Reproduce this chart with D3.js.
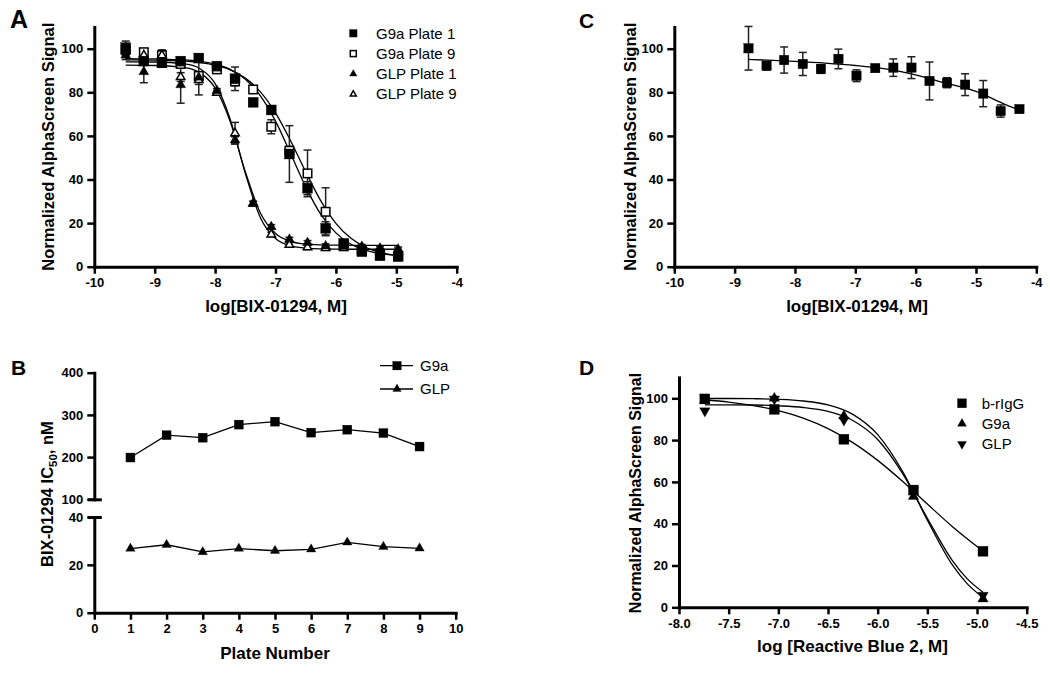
<!DOCTYPE html>
<html><head><meta charset="utf-8">
<script src="https://cdn.jsdelivr.net/npm/d3@7"></script>
<style>body{margin:0;background:#fff}</style>
</head><body><svg id="c" width="1050" height="674"></svg>
<script>
// ---------- Panel A data ----------
const aX = [-9.48,-9.18,-8.88,-8.57,-8.27,-7.97,-7.67,-7.37,-7.07,-6.77,-6.47,-6.17,-5.87,-5.57,-5.27,-4.97];
const aG9aP1 = [100.5,94.3,93.5,94.3,95.7,92,86.2,75.4,71.9,51.7,36,17.6,10.7,6.9,5,4.6];
const aG9aP1Err = [3,1.5,1.5,1.5,1.5,1,5.4,1,1.5,13,3,3,1,1,1,1];
const aG9aP9 = [99.5,98.4,97,93,87.5,90.5,85,81.3,64.2,53.2,42.8,25.2,10,7.6,6,5];
const aG9aP9Err = [2,1.5,2,1.5,8.7,1,2,1,3.2,2,10.7,11,1,1,1,1];
const aGLPP1 = [97,89.4,93.5,83.4,86.9,80.7,58.1,29,18.3,12.5,11,9.5,9.2,9.2,8.4,8];
const aGLPP1Err = [2,5,2,8.4,2,1,1.5,1,1,1,1,1,1,1,1,1];
const aGLPP9 = [99,97,97,87,85.6,79.8,61.2,29,14.8,10,8.9,8.5,8.5,8,7.5,7];
const aGLPP9Err = [2,2,2.5,2,2,1,5,1,1,1,1,1,1,1,1,1];
// fitted curves
const aFitG9aP1 = [[-9.48,95.45],[-9,95.3],[-8.5,94.85],[-8,92.9],[-7.75,90.5],[-7.5,86],[-7.25,78.4],[-7,66.8],[-6.75,51.9],[-6.5,36.6],[-6.25,24],[-6,15.5],[-5.75,10.3],[-5.5,7.5],[-5.25,6],[-4.97,5.2]];
const aFitG9aP9 = [[-9.48,94.9],[-9,94.8],[-8.5,94.3],[-8,92.4],[-7.75,90.3],[-7.5,86.5],[-7.25,80.2],[-7,70.6],[-6.75,57.8],[-6.5,43.5],[-6.25,30.2],[-6,19.9],[-5.75,13],[-5.5,8.8],[-5.25,6.4],[-4.97,5]];
const aFitGLPP1 = [[-9.48,92.5],[-9,92.3],[-8.5,91.3],[-8.25,88.9],[-8,82],[-7.75,66.6],[-7.5,43.6],[-7.25,24.6],[-7,15.2],[-6.75,11.6],[-6.5,10.4],[-6,9.9],[-5.5,9.8],[-4.97,9.8]];
const aFitGLPP9 = [[-9.48,94],[-9,93.9],[-8.5,93],[-8.25,90.8],[-8,84],[-7.75,67.7],[-7.5,42.8],[-7.25,22.5],[-7,12.9],[-6.75,9.5],[-6.5,8.5],[-6,8.05],[-5.5,8],[-4.97,8]];
const aXTicks = [-10,-9,-8,-7,-6,-5,-4];
const aYTicks = [0,20,40,60,80,100];
const aLegend = ["G9a Plate 1","G9a Plate 9","GLP Plate 1","GLP Plate 9"];

// ---------- Panel B data ----------
const bPlates = [1,2,3,4,5,6,7,8,9];
const bG9a = [199,252,246,277,284,258,265,257,225];
const bGLP = [26.8,28.4,25.4,26.8,25.9,26.5,29.4,27.6,26.9];
const bXTicks = [0,1,2,3,4,5,6,7,8,9,10];
const bYTicksHigh = [100,200,300,400];
const bYTicksLow = [0,20,40];
const bLegend = ["G9a","GLP"];

// ---------- Panel C data ----------
const cX = [-8.77,-8.47,-8.18,-7.87,-7.57,-7.28,-6.98,-6.67,-6.37,-6.07,-5.77,-5.48,-5.18,-4.88,-4.59,-4.28];
const cY = [100.2,92.2,94.8,93,90.7,95.3,87.6,91.1,91.3,91.3,85.2,84.4,83.5,79.4,71.4,72.3];
const cErr = [10,2,6,5.3,2,4.5,2.7,1.5,4,5,8.7,2.3,5,6,2.8,0];
const cFit = [[-8.77,95.1],[-8,94.2],[-7.5,93.4],[-7,92.3],[-6.5,90.7],[-6,88],[-5.5,84.2],[-5,80.4],[-4.5,74.2],[-4.28,71.8]];
const cXTicks = [-10,-9,-8,-7,-6,-5,-4];

// ---------- Panel D data ----------
const dX = [-7.74,-7.04,-6.34,-5.64,-4.94];
const dIgG = [99.7,94.7,80.4,56.1,26.8];
const dG9a = [99,100,91.5,53,4];
const dGLP = [94,99.7,89.6,56,5.7];
const dFitIgG = [[-7.74,99.3],[-7.5,98.2],[-7.25,96.5],[-7,94.1],[-6.75,90.5],[-6.5,85.5],[-6.25,78.8],[-6,70.3],[-5.75,60.3],[-5.5,49.4],[-5.25,38.7],[-4.94,26.9]];
const dFitG9a = [[-7.74,99.9],[-7.5,99.9],[-7.25,99.8],[-7,99.5],[-6.75,98.7],[-6.5,96.8],[-6.25,92.3],[-6,82.6],[-5.75,65.1],[-5.5,41.7],[-5.25,20.4],[-5.1,11.3],[-4.94,4.7]];
const dFitGLP = [[-7.74,96.9],[-7.5,96.9],[-7.25,96.8],[-7,96.4],[-6.75,95.6],[-6.5,93.7],[-6.25,89.4],[-6,80.3],[-5.75,64.1],[-5.5,42.6],[-5.25,22.5],[-5.1,13.7],[-4.94,7.2]];
const dXTicks = [-8,-7.5,-7,-6.5,-6,-5.5,-5,-4.5];
const dLegend = ["b-rIgG","G9a","GLP"];

// ---------- drawing ----------
const FONT = "'Liberation Sans', Arial, Helvetica, sans-serif";
const svg = d3.select('#c');
svg.append('rect').attr('width',1050).attr('height',674).attr('fill','#fff');

function marker(g, type, cx, cy, s) {
  if (type === 'sq' || type === 'sqo') {
    const open = type === 'sqo';
    const ss = open ? s - 1.5 : s;
    g.append('rect').attr('x', cx - ss/2).attr('y', cy - ss/2).attr('width', ss).attr('height', ss)
      .attr('fill', open ? '#fff' : '#000').attr('stroke', '#000').attr('stroke-width', open ? 1.5 : 0.3);
  } else {
    const open = type === 'trio';
    const ss = open ? s - 1.5 : s;
    const h = ss * 0.866, dir = type === 'tridn' ? -1 : 1;
    const pts = [[cx, cy - dir*2*h/3], [cx - ss/2, cy + dir*h/3], [cx + ss/2, cy + dir*h/3]];
    g.append('path').attr('d', 'M' + pts.map(p => p.join(',')).join('L') + 'Z')
      .attr('fill', open ? '#fff' : '#000').attr('stroke', '#000').attr('stroke-width', open ? 1.5 : 0.3)
      .attr('stroke-linejoin', 'miter');
  }
}
function errBars(g, xs, ys, es, x, y) {
  xs.forEach((xv, i) => {
    const e = es[i]; if (!e) return;
    const px = x(xv), y1 = y(ys[i] + e), y2 = y(ys[i] - e);
    g.append('line').attr('x1', px).attr('x2', px).attr('y1', y1).attr('y2', y2).attr('stroke', '#222').attr('stroke-width', 1.5);
    [y1, y2].forEach(yy => g.append('line').attr('x1', px - 4).attr('x2', px + 4).attr('y1', yy).attr('y2', yy).attr('stroke', '#222').attr('stroke-width', 1.5));
  });
}
function styleAxis(g) {
  g.selectAll('.domain').attr('stroke', '#000').attr('stroke-width', 3).attr('stroke-linecap', 'square');
  g.selectAll('.tick line').attr('stroke', '#000').attr('stroke-width', 2.5);
  g.selectAll('.tick text').attr('font-family', FONT).attr('font-size', 13).attr('font-weight', 'bold').attr('fill', '#000');
}
function text(x, y, str, size, opts = {}) {
  const t = svg.append('text').attr('x', x).attr('y', y).attr('font-family', FONT).attr('font-size', size)
    .attr('font-weight', opts.bold ? 'bold' : 'normal').attr('fill', '#000').attr('text-anchor', opts.anchor || 'start').text(str);
  if (opts.dy) t.attr('dy', opts.dy);
  return t;
}
function yLabel(cx, cy, str, size) {
  return svg.append('text').attr('transform', `translate(${cx},${cy}) rotate(-90)`).attr('dy', '0.35em')
    .attr('text-anchor', 'middle').attr('font-family', FONT).attr('font-size', size).attr('font-weight', 'bold').attr('fill', '#000').text(str);
}
function curve(g, pts, x, y) {
  g.append('path').attr('d', d3.line().x(d => x(d[0])).y(d => y(d[1])).curve(d3.curveMonotoneX)(pts))
    .attr('fill', 'none').attr('stroke', '#000').attr('stroke-width', 1.3);
}

// ===== Panel A =====
{
  const x = d3.scaleLinear().domain([-10, -4]).range([94.3, 456.7]);
  const y = d3.scaleLinear().domain([0, 110]).range([266.7, 26.9]);
  const g = svg.append('g');
  [aFitG9aP1, aFitG9aP9, aFitGLPP1, aFitGLPP9].forEach(c => curve(g, c, x, y));
  const series = [[aG9aP9, aG9aP9Err, 'sqo'], [aGLPP9, aGLPP9Err, 'trio'], [aG9aP1, aG9aP1Err, 'sq'], [aGLPP1, aGLPP1Err, 'tri']];
  series.forEach(([vals, errs]) => errBars(g, aX, vals, errs, x, y));
  series.forEach(([vals, errs, t]) => aX.forEach((xv, i) => marker(g, t, x(xv), y(vals[i]), 10)));
  const gx = svg.append('g').attr('transform', 'translate(0,266.7)')
    .call(d3.axisBottom(x).tickValues(aXTicks).tickFormat(d => String(d)).tickSize(7).tickPadding(4).tickSizeOuter(0));
  styleAxis(gx);
  const gy = svg.append('g').attr('transform', 'translate(94.3,0)')
    .call(d3.axisLeft(y).tickValues(aYTicks).tickFormat(d => String(d)).tickSize(7).tickPadding(4).tickSizeOuter(0));
  styleAxis(gy);
  const types = ['sq', 'sqo', 'tri', 'trio'];
  aLegend.forEach((lab, i) => {
    const yy = 33.3 + i * 20.3;
    marker(svg, types[i], 353.3, yy, 7.5);
    text(376, yy, lab, 15, { dy: '0.35em' });
  });
  yLabel(48, 146.7, 'Normalized AlphaScreen Signal', 16.5);
  text(276, 312, 'log[BIX-01294, M]', 17, { bold: true, anchor: 'middle' });
  text(10, 28, 'A', 25, { bold: true });
}

// ===== Panel B =====
{
  const x = d3.scaleLinear().domain([0, 10]).range([94.3, 455.7]);
  const yH = d3.scaleLinear().domain([100, 400]).range([499.3, 372.7]);
  const yL = d3.scaleLinear().domain([0, 40]).range([612.7, 517]);
  const g = svg.append('g');
  const ln = (yy) => d3.line().x((d, i) => x(bPlates[i])).y(d => yy(d));
  g.append('path').attr('d', ln(yH)(bG9a)).attr('fill', 'none').attr('stroke', '#000').attr('stroke-width', 1.3);
  g.append('path').attr('d', ln(yL)(bGLP)).attr('fill', 'none').attr('stroke', '#000').attr('stroke-width', 1.3);
  bPlates.forEach((p, i) => { marker(g, 'sq', x(p), yH(bG9a[i]), 9); marker(g, 'tri', x(p), yL(bGLP[i]), 9.5); });
  const gx = svg.append('g').attr('transform', 'translate(0,612.7)')
    .call(d3.axisBottom(x).tickValues(bXTicks).tickFormat(d => String(d)).tickSize(7).tickPadding(4).tickSizeOuter(0));
  styleAxis(gx);
  const gyH = svg.append('g').attr('transform', 'translate(94.3,0)')
    .call(d3.axisLeft(yH).tickValues(bYTicksHigh).tickFormat(d => String(d)).tickSize(7).tickPadding(4).tickSizeOuter(0));
  styleAxis(gyH);
  const gyL = svg.append('g').attr('transform', 'translate(94.3,0)')
    .call(d3.axisLeft(yL).tickValues(bYTicksLow).tickFormat(d => String(d)).tickSize(7).tickPadding(4).tickSizeOuter(0));
  styleAxis(gyL);
  [yH(100), yL(40)].forEach(yy => svg.append('line').attr('x1', 94.8 - 7).attr('x2', 94.8 + 7).attr('y1', yy + 0.5).attr('y2', yy + 0.5)
    .attr('stroke', '#000').attr('stroke-width', 3));
  const types = ['sq', 'tri'];
  bLegend.forEach((lab, i) => {
    const yy = 365.7 + i * 23.3;
    svg.append('line').attr('x1', 380).attr('x2', 413).attr('y1', yy).attr('y2', yy).attr('stroke', '#000').attr('stroke-width', 1.3);
    marker(svg, types[i], 397, yy, 8.5);
    text(420, yy, lab, 15, { dy: '0.35em' });
  });
  const yl = svg.append('text').attr('transform', 'translate(47,494) rotate(-90)').attr('dy', '0.35em')
    .attr('text-anchor', 'middle').attr('font-family', FONT).attr('font-size', 16.5).attr('font-weight', 'bold').attr('fill', '#000');
  yl.append('tspan').text('BIX-01294 IC');
  yl.append('tspan').attr('font-size', 11.5).attr('dy', '4').text('50');
  yl.append('tspan').attr('dy', '-4').text(', nM');
  text(275, 659, 'Plate Number', 17, { bold: true, anchor: 'middle' });
  text(11, 375, 'B', 21, { bold: true });
}

// ===== Panel C =====
{
  const x = d3.scaleLinear().domain([-10, -4]).range([674.3, 1036.3]);
  const y = d3.scaleLinear().domain([0, 110]).range([266.7, 26.9]);
  const g = svg.append('g');
  curve(g, cFit, x, y);
  errBars(g, cX, cY, cErr, x, y);
  cX.forEach((xv, i) => marker(g, 'sq', x(xv), y(cY[i]), 9.5));
  const gx = svg.append('g').attr('transform', 'translate(0,266.7)')
    .call(d3.axisBottom(x).tickValues(cXTicks).tickFormat(d => String(d)).tickSize(7).tickPadding(4).tickSizeOuter(0));
  styleAxis(gx);
  const gy = svg.append('g').attr('transform', 'translate(674.3,0)')
    .call(d3.axisLeft(y).tickValues(aYTicks).tickFormat(d => String(d)).tickSize(7).tickPadding(4).tickSizeOuter(0));
  styleAxis(gy);
  yLabel(630, 146.7, 'Normalized AlphaScreen Signal', 16.5);
  text(857, 312, 'log[BIX-01294, M]', 17, { bold: true, anchor: 'middle' });
  text(579, 28, 'C', 21, { bold: true });
}

// ===== Panel D =====
{
  const x = d3.scaleLinear().domain([-8, -4.5]).range([679, 1026.7]);
  const y = d3.scaleLinear().domain([0, 110]).range([607.3, 377.4]);
  const g = svg.append('g');
  [dFitIgG, dFitG9a, dFitGLP].forEach(c => curve(g, c, x, y));
  dX.forEach((xv, i) => {
    marker(g, 'sq', x(xv), y(dIgG[i]), 10);
    marker(g, 'tri', x(xv), y(dG9a[i]), 10.5);
    marker(g, 'tridn', x(xv), y(dGLP[i]), 10.5);
  });
  const gx = svg.append('g').attr('transform', 'translate(0,607.3)')
    .call(d3.axisBottom(x).tickValues(dXTicks).tickFormat(d => d.toFixed(1)).tickSize(7).tickPadding(4).tickSizeOuter(0));
  styleAxis(gx);
  const gy = svg.append('g').attr('transform', 'translate(679,0)')
    .call(d3.axisLeft(y).tickValues(aYTicks).tickFormat(d => String(d)).tickSize(7).tickPadding(4).tickSizeOuter(0));
  styleAxis(gy);
  const types = ['sq', 'tri', 'tridn'];
  dLegend.forEach((lab, i) => {
    const yy = 403.3 + i * 20.4;
    marker(svg, types[i], 962, yy, 9);
    text(981.7, yy, lab, 15, { dy: '0.35em' });
  });
  yLabel(635, 493, 'Normalized AlphaScreen Signal', 16);
  text(852.5, 652, 'log [Reactive Blue 2, M]', 17, { bold: true, anchor: 'middle' });
  text(579, 375, 'D', 21, { bold: true });
}
</script></body></html>
